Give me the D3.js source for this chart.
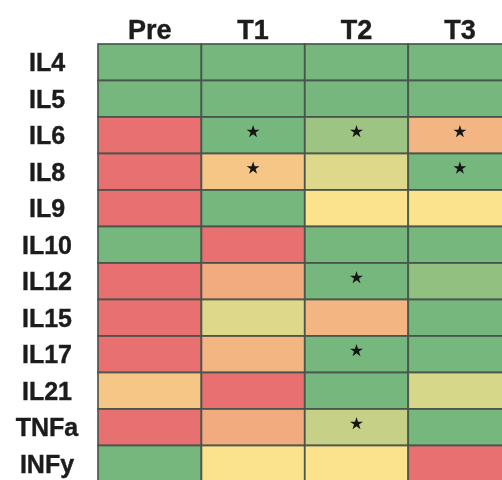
<!DOCTYPE html>
<html>
<head>
<meta charset="utf-8">
<script src="https://cdn.jsdelivr.net/npm/d3@7"></script>
<style>
  html, body { margin: 0; padding: 0; background: #fff; }
  svg { display: block; }
  text { font-family: "Liberation Sans", Arial, Helvetica, sans-serif; font-weight: bold; fill: #1c1c1c; stroke: #1c1c1c; stroke-width: 0.4; }
</style>
</head>
<body>
<svg id="chart" width="502" height="480"></svg>
<script>
// Time points (columns) and cytokines (rows)
const timepoints = ["Pre", "T1", "T2", "T3"];
const cytokines = ["IL4", "IL5", "IL6", "IL8", "IL9", "IL10", "IL12", "IL15", "IL17", "IL21", "TNFa", "INFy"];

// Relative change score per cytokine (-1 = strongest red, 0 = yellow, 1 = green)
const scorePre = [1, 1, -1, -1, -1, 1, -1, -1, -1, -0.25, -1, 1];
const scoreT1  = [1, 1, 1, -0.25, 1, -1, -0.5, 0.22, -0.4, -1, -0.5, 0];
const scoreT2  = [1, 1, 0.7, 0.22, 0, 1, 1, -0.4, 1, 1, 0.4, 0];
const scoreT3  = [1, 1, -0.4, 1, 0, 1, 0.8, 1, 1, 0.27, 1, -1];

// Significance markers (1 = starred cell)
const sigPre = [0, 0, 0, 0, 0, 0, 0, 0, 0, 0, 0, 0];
const sigT1  = [0, 0, 1, 1, 0, 0, 0, 0, 0, 0, 0, 0];
const sigT2  = [0, 0, 1, 0, 0, 0, 1, 0, 1, 0, 1, 0];
const sigT3  = [0, 0, 1, 1, 0, 0, 0, 0, 0, 0, 0, 0];

const scores = [scorePre, scoreT1, scoreT2, scoreT3];
const sigs = [sigPre, sigT1, sigT2, sigT3];

const cells = [];
timepoints.forEach((t, ci) => {
  cytokines.forEach((c, ri) => {
    cells.push({ time: t, cyto: c, value: scores[ci][ri], sig: sigs[ci][ri] === 1 });
  });
});

const svg = d3.select("#chart");

const defs = svg.append("defs");
defs.append("filter").attr("id", "soft")
  .attr("x", "-5%").attr("y", "-5%").attr("width", "110%").attr("height", "110%")
  .append("feGaussianBlur").attr("stdDeviation", 0.7);

const x = d3.scaleBand().domain(timepoints).range([98, 98 + 4 * 103.4]).padding(0);
const y = d3.scaleBand().domain(cytokines).range([44, 44 + 12 * 36.5]).padding(0);

const color = d3.scaleLinear()
  .domain([-1, 0, 1])
  .range(["#e87070", "#fbe38d", "#76b77e"])
  .interpolate(d3.interpolateRgb);

const g = svg.append("g").attr("filter", "url(#soft)");

// Heatmap cells
g.append("g").selectAll("rect")
  .data(cells)
  .join("rect")
  .attr("x", d => x(d.time))
  .attr("y", d => y(d.cyto))
  .attr("width", x.bandwidth())
  .attr("height", y.bandwidth())
  .attr("fill", d => color(d.value))
  .attr("stroke", "#46524a")
  .attr("stroke-opacity", 0.9)
  .attr("stroke-width", 1.8);

// Significance stars
g.append("g").selectAll("path")
  .data(cells.filter(d => d.sig))
  .join("path")
  .attr("d", d3.symbol(d3.symbolStar, 52))
  .attr("transform", d => `translate(${x(d.time) + x.bandwidth() / 2},${y(d.cyto) + y.bandwidth() / 2 - 3.5})`)
  .attr("fill", "#151515");

// Column headers
g.append("g").selectAll("text")
  .data(timepoints)
  .join("text")
  .attr("x", d => x(d) + x.bandwidth() / 2)
  .attr("y", 38.5)
  .attr("text-anchor", "middle")
  .attr("font-size", 27)
  .text(d => d);

// Row labels
g.append("g").selectAll("text")
  .data(cytokines)
  .join("text")
  .attr("x", 47)
  .attr("y", d => y(d) + y.bandwidth() / 2)
  .attr("dy", "0.36em")
  .attr("text-anchor", "middle")
  .attr("font-size", 25)
  .text(d => d);
</script>
</body>
</html>
